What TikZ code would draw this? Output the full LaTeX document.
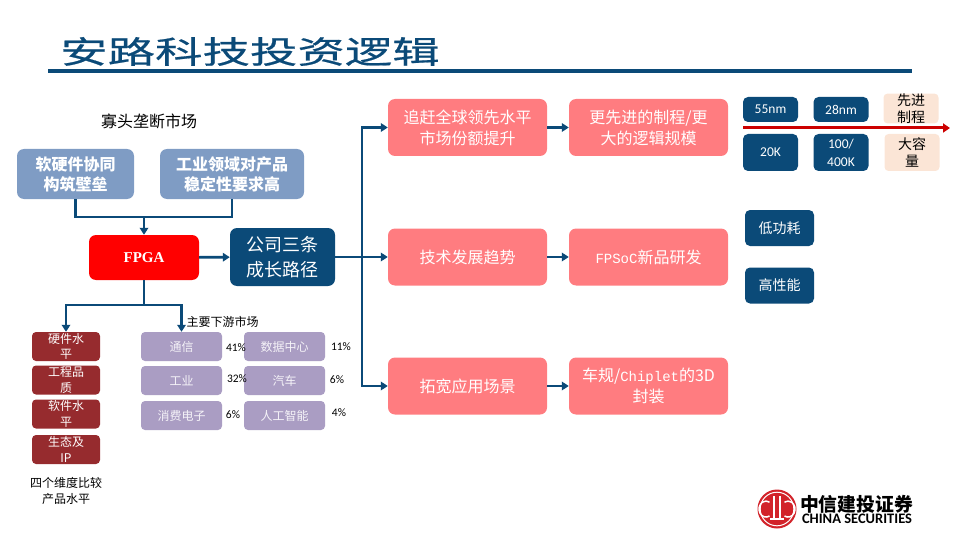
\documentclass[tikz,border=0pt]{standalone}
\usepackage{fontspec}
\setmainfont{Noto Sans CJK SC}
\newfontfamily\titlefont[FakeStretch=1.52,FakeBold=0.6]{Noto Sans CJK SC}
\newfontfamily\latinfont{Carlito}
\newfontfamily\monofont{Liberation Mono}
\newfontfamily\serifbold{Liberation Serif}
\newcommand{\monotext}[1]{{\monofont\fontsize{14}{21}\selectfont #1}}
\usetikzlibrary{arrows.meta}
\definecolor{navy}{HTML}{0B4A78}
\definecolor{steel}{HTML}{7F9CC4}
\definecolor{salmon}{HTML}{FF7C80}
\definecolor{brick}{HTML}{962B2E}
\definecolor{lilac}{HTML}{AA9DC3}
\definecolor{peach}{HTML}{FBE5D6}
\definecolor{logored}{HTML}{D2232A}
\tikzset{
    box/.style={align=center, inner sep=0pt, rounded corners=7pt, text=white},
    steelbox/.style={box, fill=steel, minimum height=50pt, font=\fontsize{16}{20}\selectfont\bfseries},
    pathbox/.style={box, fill=salmon, minimum width=159pt, minimum height=57pt, font=\fontsize{16}{21}\selectfont},
    navybox/.style={box, fill=navy, minimum width=55pt, rounded corners=5pt, font=\latinfont\fontsize{13.5}{18}\selectfont},
    featbox/.style={box, fill=navy, minimum width=69pt, minimum height=36pt, rounded corners=5pt, font=\fontsize{14}{18}\selectfont},
    peachbox/.style={box, fill=peach, minimum width=55pt, rounded corners=4pt, text=black, font=\fontsize{14}{17}\selectfont},
    brickbox/.style={box, fill=brick, minimum width=68pt, minimum height=29pt, rounded corners=4pt, font=\fontsize{12}{15.5}\selectfont},
    lilacbox/.style={box, fill=lilac, minimum width=81pt, minimum height=29pt, rounded corners=4pt, text=white!88!lilac, font=\fontsize{12}{15}\selectfont},
    plain/.style={align=center, inner sep=0pt, text=black},
    pct/.style={plain, font=\latinfont\fontsize{11.5}{14}\selectfont},
    link/.style={draw=navy, line width=2.6pt},
    flow/.style={link, -{Triangle[length=7pt,width=8.5pt]}},
    logoline/.style={white, line width=1.5pt},
}
\begin{document}
\begin{tikzpicture}[x=1pt,y=-1pt]
    \useasboundingbox (0,0) rectangle (960,540);
    % title
    \node[plain, text=navy, font=\titlefont\fontsize{31.2}{36}\selectfont] (title) at (250,51.5) {安路科技投资逻辑};
    \coordinate (ruleL) at (48,71);
    \coordinate (ruleR) at (912,71);
    \draw[navy, line width=3.6pt] (ruleL) -- (ruleR);
    % left part
    \node[plain, font=\fontsize{16}{20}\selectfont] (oligo) at (149,121) {寡头垄断市场};
    \node[steelbox, minimum width=117pt] (soft) at (75.5,174) {软硬件协同\\构筑壁垒};
    \node[steelbox, minimum width=144pt] (ind) at (232,174) {工业领域对产品\\稳定性要求高};
    \node[box, fill=red, minimum width=110pt, minimum height=45pt, font=\serifbold\bfseries\fontsize{15}{16}\selectfont] (fpga) at (144,257.5) {FPGA};
    \node[box, fill=navy, minimum width=105pt, minimum height=58pt, font=\fontsize{18}{25}\selectfont] (growth) at (282.5,257) {公司三条\\成长路径};
    \coordinate (join) at (144,217);
    \draw[link] (soft.south) |- (join);
    \draw[link] (ind.south) |- (join);
    \draw[flow] (join) -- (fpga.north);
    \draw[flow] (fpga) -- (growth);
    % four dimensions
    \node[brickbox] (hw) at (66,346.5) {硬件水\\平};
    \node[brickbox] (eng) at (66,380) {工程品\\质};
    \node[brickbox] (sw) at (66,414) {软件水\\平};
    \node[brickbox] (eco) at (66,449.5) {生态及\\IP};
    \node[plain, font=\fontsize{12}{15.5}\selectfont] (dims) at (66,491) {四个维度比较\\产品水平};
    % downstream markets
    \node[plain, font=\fontsize{12}{15}\selectfont] (down) at (222.5,322) {主要下游市场};
    \foreach \name/\xx/\yy/\txt in {tele/181.5/346.5/通信, induse/181.5/380.5/工业, cons/181.5/415.5/消费电子,
        dc/284.5/346.5/数据中心, auto/284.5/380.5/汽车, ai/284.5/415.5/人工智能}
    {
        \node[lilacbox] (\name) at (\xx,\yy) {\txt};
    }
    \foreach \name/\xx/\yy/\txt in {pa/236/348/41\%, pb/237/379/32\%, pc/233/415/6\%,
        pd/341/347/11\%, pe/337/380/6\%, pf/339/413/4\%}
    {
        \node[pct] (\name) at (\xx,\yy) {\txt};
    }
    \coordinate (split) at (144,305);
    \draw[link] (fpga.south) -- (split);
    \draw[flow] (split) -| (hw.north);
    \draw[flow] (split) -| (tele.north);
    % three paths
    \node[pathbox] (chase) at (467.5,127.5) {追赶全球领先水平\\市场份额提升};
    \node[pathbox] (trend) at (467.5,257) {技术发展趋势};
    \node[pathbox] (widen) at (467.5,386) {拓宽应用场景};
    \node[pathbox] (finer) at (648.5,127.5) {更先进的制程/更\\大的逻辑规模};
    \node[pathbox] (soc) at (648.5,257) {\monotext{FPSoC}新品研发};
    \node[pathbox] (car) at (648.5,386) {车规/\monotext{Chiplet}的3D\\封装};
    \coordinate (trunk) at (362,257);
    \draw[link] (growth) -- (trunk);
    \foreach \a/\b in {chase/finer, trend/soc, widen/car}
    {
        \draw[flow] (trunk) |- (\a.west);
        \draw[flow] (\a) -- (\b);
    }
    % roadmap
    \node[navybox, minimum height=25pt] (nm55) at (770.5,109.5) {55nm};
    \node[navybox, minimum height=25pt] (nm28) at (841,109.5) {28nm};
    \node[peachbox, minimum height=25pt] (proc) at (911,108.5) {先进\\制程};
    \node[navybox, minimum height=37pt] (k20) at (770.5,152.5) {20K};
    \node[navybox, minimum height=37pt] (k400) at (841,152.5) {100/\\400K};
    \node[peachbox, minimum height=37pt] (cap) at (912,152.5) {大容\\量};
    \coordinate (roadL) at (743,128);
    \coordinate (roadR) at (950,128);
    \draw[red!80!black, line width=3pt, -{Triangle[length=7pt,width=9pt]}] (roadL) -- (roadR);
    \node[featbox] (lowp) at (779.5,228) {低功耗};
    \node[featbox] (highp) at (779.5,285.5) {高性能};
    % logo
    \coordinate (logo) at (777,509);
    \fill[logored] (logo) circle (19.5);
    \draw[white, line width=1pt] (logo) circle (16.8);
    \foreach \dx in {-3,3}
    {
        \draw[logoline] ([xshift=\dx pt,yshift=-10pt]logo) -- ([xshift=\dx pt,yshift=13pt]logo);
    }
    \draw[logoline] ([xshift=-7pt,yshift=-10pt]logo) -- ([xshift=7pt,yshift=-10pt]logo);
    \draw[logoline] ([xshift=-7.5pt,yshift=-7pt]logo) arc (60:300:7 and 8);
    \draw[logoline] ([xshift=7.5pt,yshift=-7pt]logo) arc (120:-120:7 and 8);
    \node[plain, font=\fontsize{18.8}{20}\selectfont\bfseries] (cnname) at (856.5,504) {中信建投证券};
    \node[plain, font=\latinfont\bfseries\fontsize{14.5}{15}\selectfont] (enname) at (857,519) {CHINA SECURITIES};
\end{tikzpicture}
\end{document}
